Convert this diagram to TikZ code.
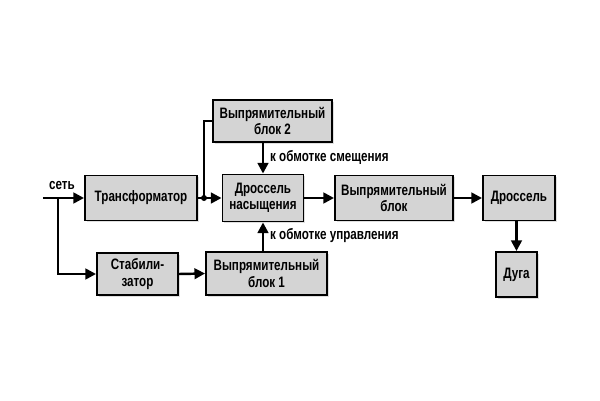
\documentclass[tikz,border=0pt]{standalone}
\usepackage{fontspec}
\setmainfont{Liberation Sans}[FakeStretch=0.77]
\usetikzlibrary{arrows.meta,shadows}
\tikzset{
  blok/.style={draw, line width=1.1pt, fill=black!17, align=center, inner sep=1pt,
    font=\fontsize{8.6}{9.4}\selectfont\bfseries,
    drop shadow={shadow xshift=1pt, shadow yshift=-1pt, opacity=.25}},
  strel/.style={line width=1.4pt, -{Triangle[length=6pt,width=6pt]}},
  lin/.style={line width=1.4pt},
  podpis/.style={font=\fontsize{8.6}{9.4}\selectfont\bfseries, inner sep=1pt}
}
\begin{document}
\begin{tikzpicture}[x=0.02cm, y=-0.02cm]
    \useasboundingbox (0,0) rectangle (600,400);

    \node[blok, minimum width=112*0.02cm, minimum height=45*0.02cm] (trans) at (141,198) {Трансформатор};
    \node[blok, minimum width=119*0.02cm, minimum height=42*0.02cm] (vb2) at (272.5,121) {Выпрямительный\\блок 2};
    \node[blok, minimum width=81*0.02cm, minimum height=47*0.02cm] (dn) at (263,198) {Дроссель\\насыщения};
    \node[blok, minimum width=81*0.02cm, minimum height=42*0.02cm] (stab) at (137.5,274) {Стабили-\\затор};
    \node[blok, minimum width=121*0.02cm, minimum height=43*0.02cm] (vb1) at (266.5,273.5) {Выпрямительный\\блок 1};
    \node[blok, minimum width=118*0.02cm, minimum height=45*0.02cm] (vb) at (394,198) {Выпрямительный\\блок};
    \node[blok, minimum width=72*0.02cm, minimum height=45*0.02cm] (dr) at (519,198) {Дроссель};
    \node[blok, minimum width=41*0.02cm, minimum height=45*0.02cm] (duga) at (516.5,274.5) {Дуга};

    \coordinate (vhod) at (43,198);
    \coordinate (vetv) at (58,198);
    \coordinate (uzel) at (204,198);

    \draw[strel] (vhod) -- (trans.west);
    \draw[strel] (vetv) |- (stab.west);
    \draw[strel] (trans.east) -- (dn.west);
    \draw[lin] (uzel) |- (vb2.west);
    \fill (uzel) circle (3);
    \draw[strel] (vb2.south -| dn.north) -- (dn.north);
    \draw[strel] (stab.east) -- (vb1.west);
    \draw[strel] (vb1.north -| dn.south) -- (dn.south);
    \draw[strel] (dn.east) -- (vb.west);
    \draw[strel] (vb.east) -- (dr.west);
    \draw[strel] (dr.south -| duga.north) -- (duga.north);

    \node[podpis] (set) at (62,186) {сеть};
    \node[podpis, anchor=west] (smesh) at (268,157) {к обмотке смещения};
    \node[podpis, anchor=west] (uprav) at (268,236) {к обмотке управления};
\end{tikzpicture}
\end{document}
